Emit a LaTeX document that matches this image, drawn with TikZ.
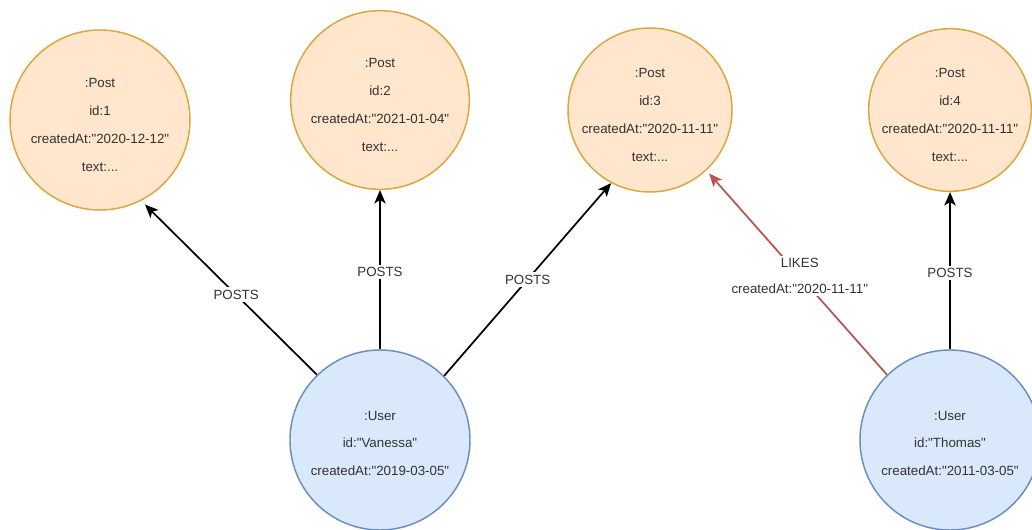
\documentclass[tikz,border=0pt]{standalone}
\usepackage{fontspec}
\setmainfont{Liberation Sans}
\usetikzlibrary{arrows.meta}

\definecolor{postfill}{HTML}{FFE6CC}
\definecolor{postline}{HTML}{D8A73E}
\definecolor{userfill}{HTML}{DAE8FC}
\definecolor{userline}{HTML}{6C8EBF}
\definecolor{likeline}{HTML}{B85450}
\definecolor{txt}{HTML}{333333}

% straight double quote
\newcommand{\dq}{\textquotedbl}
% extra room above the first line, sets the text a little lower in its circle
\newcommand{\postlift}{\rule{0pt}{14pt}}
\newcommand{\userlift}{\rule{0pt}{12pt}}

\begin{document}
\begin{tikzpicture}[x=0.75pt,y=-0.75pt,
  entity/.style={circle,inner sep=-12pt,align=center,text=txt,line width=1.1pt},
  post/.style={entity,draw=postline,fill=postfill,
    font=\fontsize{10}{21}\selectfont},
  user/.style={entity,draw=userline,fill=userfill,
    font=\fontsize{10}{20.5}\selectfont},
  rel/.style={line width=1.3pt,-{Stealth[length=10pt,width=8.5pt,inset=2.5pt]}},
  posts/.style={rel,draw=black},
  likes/.style={rel,draw=likeline},
  lbl/.style={fill=white,text=txt,inner sep=2pt,align=center,
    font=\fontsize{10}{19.5}\selectfont}]

\clip (0,0) rectangle (1032,529);
\fill[white] (0,0) rectangle (1032,529);

% posts
\node[post,minimum size=135pt] (p1) at (100,120)
  {\postlift:Post\\id:1\\createdAt:\dq 2020-12-12\dq\\text:...};
\node[post,minimum size=134pt] (p2) at (380,100)
  {\postlift:Post\\id:2\\createdAt:\dq 2021-01-04\dq\\text:...};
\node[post,minimum size=123pt] (p3) at (650,110)
  {\postlift:Post\\id:3\\createdAt:\dq 2020-11-11\dq\\text:...};
\node[post,minimum size=122pt] (p4) at (950,110)
  {\postlift:Post\\id:4\\createdAt:\dq 2020-11-11\dq\\text:...};

% users
\node[user,minimum size=135pt] (u1) at (380,440)
  {\userlift:User\\id:\dq Vanessa\dq\\createdAt:\dq 2019-03-05\dq};
\node[user,minimum size=135pt] (u2) at (950,440)
  {\userlift:User\\id:\dq Thomas\dq\\createdAt:\dq 2011-03-05\dq};

% relationships
\draw[posts,shorten >=4pt] (u1.134) -- (p1.-63) node[lbl,pos=0.46] {POSTS};
\draw[posts] (u1.north) -- (p2.south) node[lbl,pos=0.485] {POSTS};
\draw[posts] (u1.45) -- (p3.242.5) node[lbl,midway] {POSTS};
\draw[likes,shorten >=3pt] (u2.134) -- (p3.-47)
  node[lbl,pos=0.483] {LIKES\\createdAt:\dq 2020-11-11\dq};
\draw[posts] (u2.north) -- (p4.south) node[lbl,pos=0.485] {POSTS};

\end{tikzpicture}
\end{document}
